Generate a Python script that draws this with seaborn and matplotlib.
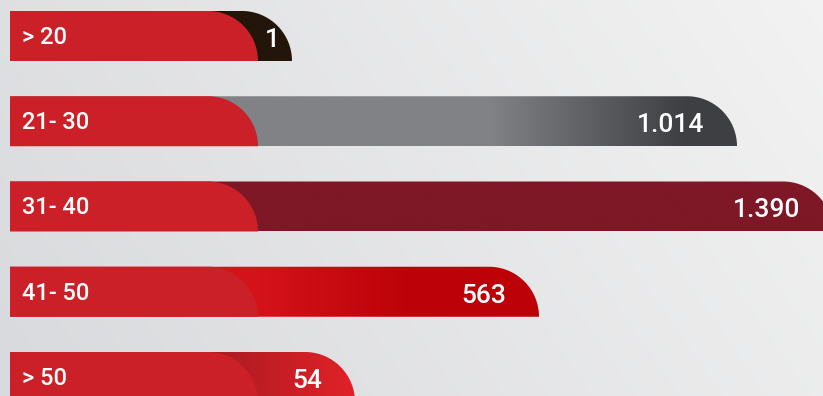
import numpy as np
import pandas as pd
import matplotlib
matplotlib.use("Agg")
import matplotlib.pyplot as plt
import seaborn as sns
from matplotlib.path import Path
from matplotlib.patches import PathPatch
from matplotlib.colors import to_rgb

# ---- data ----
categories = ["> 20", "21- 30", "31- 40", "41- 50", "> 50"]
values = [1, 1014, 1390, 563, 54]
value_labels = ["1", "1.014", "1.390", "563", "54"]
bar_extent = [282, 727, 823, 529, 345]      # drawn length of each bar
label_extent = [248, 248, 248, 248, 248]    # length of the red label box

# ---- styles ----
label_red = "#cb2027"
bar_gradients = [
    [(0, "#231509"), (1000, "#231509")],
    [(0, "#818286"), (480, "#818286"), (675, "#3e3f43"), (1000, "#3e3f43")],
    [(0, "#7e1726"), (1000, "#7e1726")],
    [(0, "#d4121a"), (250, "#d4121a"), (400, "#bc0208"), (1000, "#bc0208")],
    [(0, "#a91c22"), (200, "#a91c22"), (340, "#e02128"), (1000, "#e02128")],
]
W, H = 823, 396
PX_PER_UNIT = 85.25
BAR_H = 50 / PX_PER_UNIT
RX = 50

sns.set_theme(style="white")
plt.rcParams["font.family"] = ["Roboto", "DejaVu Sans"]

fig = plt.figure(figsize=(W / 100, H / 100), dpi=100)
ax = fig.add_axes([0, 0, 1, 1])

df = pd.DataFrame({"category": categories, "extent": bar_extent,
                   "label_extent": label_extent, "value": values})

sns.barplot(data=df, x="extent", y="category", orient="h", width=BAR_H,
            color="gray", ax=ax)
n_bars = len(ax.patches)
sns.barplot(data=df, x="label_extent", y="category", orient="h", width=BAR_H,
            color=label_red, ax=ax)

xlim = (-10, W - 10)
ylim = ((H - 36) / PX_PER_UNIT, -36 / PX_PER_UNIT)


def rounded_path(x0, x1, ytop, ybot, rx):
    ry = ybot - ytop
    cx, cy = x1 - rx, ybot
    t = np.linspace(np.pi / 2, 0, 40)
    arc_x = cx + rx * np.cos(t)
    arc_y = cy - ry * np.sin(t)
    verts = [(x0, ybot), (x0, ytop)] + list(zip(arc_x, arc_y)) + [(x0, ybot)]
    codes = [Path.MOVETO] + [Path.LINETO] * (len(verts) - 2) + [Path.CLOSEPOLY]
    return Path(verts, codes)


patches = list(ax.patches)
for i, p in enumerate(patches):
    x0 = p.get_x()
    w = p.get_width()
    ytop = p.get_y()
    ybot = ytop + p.get_height()
    p.set_visible(False)
    path = rounded_path(x0, x0 + w, ytop, ybot, RX)
    if i < n_bars:
        stops = bar_gradients[i]
        xs = np.linspace(x0, x0 + w, 600)
        sx = [s[0] for s in stops]
        cols = np.array([to_rgb(s[1]) for s in stops])
        row = np.stack([np.interp(xs, sx, cols[:, k]) for k in range(3)], axis=-1)
        img = np.repeat(row[None, :, :], 2, axis=0)
        pp = PathPatch(path, facecolor="none", edgecolor="none", zorder=2)
        ax.add_patch(pp)
        im = ax.imshow(img, extent=(x0, x0 + w, ybot, ytop), aspect="auto",
                       interpolation="bilinear", zorder=2)
        im.set_clip_path(pp)
    else:
        pp = PathPatch(path, facecolor=label_red, edgecolor="none", zorder=3)
        ax.add_patch(pp)

# background gradient
gy, gx = np.mgrid[0:1:200j, 0:1:400j]
t = np.clip(0.75 * gx + 0.25 * (1 - gy) - 0.02, 0, 1)
c0 = np.array(to_rgb("#d9dadd"))
c1 = np.array(to_rgb("#f3f3f3"))
bg = c0[None, None, :] * (1 - t[..., None]) + c1[None, None, :] * t[..., None]
ax.imshow(bg, extent=(xlim[0], xlim[1], ylim[0], ylim[1]), aspect="auto",
          zorder=0, interpolation="bilinear")

# texts
for i, (cat, vl, e, le) in enumerate(zip(categories, value_labels, bar_extent, label_extent)):
    ax.text(12, i + 8 / PX_PER_UNIT, cat, color="white", fontsize=17,
            fontweight="medium", ha="left", va="baseline", zorder=5)
    xv = max(e - 33, le + 22)
    ax.text(xv, i + 11 / PX_PER_UNIT, vl, color="white", fontsize=19,
            fontweight="medium", ha="right", va="baseline", zorder=5)

ax.set_xlim(*xlim)
ax.set_ylim(*ylim)
ax.set_axis_off()
fig.savefig("out.png", dpi=100)
